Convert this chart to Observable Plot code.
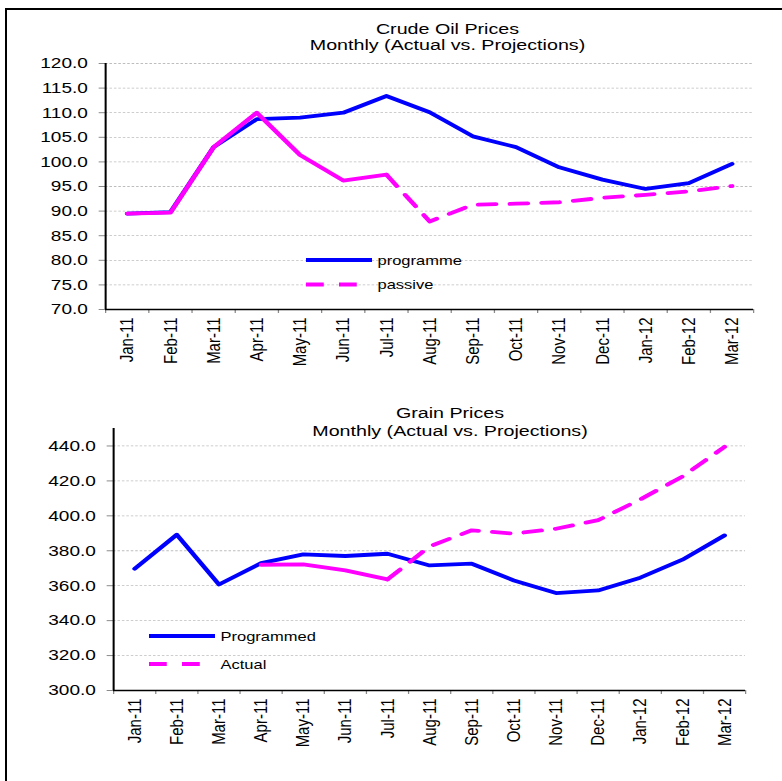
<!DOCTYPE html>
<html><head><meta charset="utf-8">
<script src="https://cdn.jsdelivr.net/npm/d3@7"></script>
<script src="https://cdn.jsdelivr.net/npm/@observablehq/plot@0.6"></script>
<style>
body{margin:0;background:#fff;}
#wrap{position:relative;width:782px;height:781px;overflow:hidden;background:#fff;}
.bt{position:absolute;left:5px;top:8px;width:777px;height:2px;background:#000;}
.bl{position:absolute;left:5px;top:8px;width:2px;height:773px;background:#000;}
</style></head><body><div id="wrap"><div class="bt"></div><div class="bl"></div></div>
<script>
// ---- data ----
const months = ["Jan-11","Feb-11","Mar-11","Apr-11","May-11","Jun-11","Jul-11","Aug-11","Sep-11","Oct-11","Nov-11","Dec-11","Jan-12","Feb-12","Mar-12"];
const oilProgramme = [89.5, 89.8, 103.0, 108.7, 109.0, 110.0, 113.4, 110.1, 105.2, 103.0, 98.9, 96.4, 94.5, 95.7, 99.6];
const oilPassive   = [89.5, 89.7, 103.0, 110.0, 101.4, 96.2, 97.4, 87.9, 91.3, 91.5, 91.8, 92.7, 93.3, 94.0, 95.1];
const grainProgrammed = [369.7, 389.2, 360.7, 372.9, 377.9, 377.0, 378.3, 371.6, 372.6, 363.0, 355.8, 357.3, 364.6, 374.9, 388.8];
const grainActual     = [null, null, null, 372.0, 372.2, 368.8, 363.6, 382.5, 391.7, 389.8, 392.6, 397.5, 409.4, 422.5, 439.5];
const lastActual = "Jul-11"; // solid up to here, dashed projection after
const oilTicks = [70, 75, 80, 85, 90, 95, 100, 105, 110, 115, 120];
const grainTicks = [300, 320, 340, 360, 380, 400, 420, 440];
const oilTitle = ["Crude Oil Prices", "Monthly (Actual vs. Projections)"];
const grainTitle = ["Grain Prices", "Monthly (Actual vs. Projections)"];
const oilLegend = ["programme", "passive"];
const grainLegend = ["Programmed", "Actual"];

// ---- layout ----
const OUTW = 782, W = 616;           // drawn in a narrower space, stretched horizontally
const BLUE = "#0000ff", MAG = "#ff00ff";
const FONT = "Liberation Sans, Arial, Helvetica, sans-serif";
const DASH = "14,11";
const wrap = document.getElementById("wrap");
const fmt = d3.format(".1f");
const idx = months.map((_, i) => i);
const bounds = d3.range(months.length + 1).map(i => i - 0.5);
const cut = months.indexOf(lastActual);

function chart(cfg) {
  const {h, top, mt, mb, ml, mr, domain, ticks, blue, mag, title, legend} = cfg;
  const bluePts = blue.map((v, i) => ({i, v})).filter(d => d.v != null);
  const magPts = mag.map((v, i) => ({i, v})).filter(d => d.v != null);
  const svg = Plot.plot({
    width: W, height: h,
    marginTop: mt, marginBottom: mb, marginLeft: ml, marginRight: mr,
    style: {fontFamily: FONT, fontSize: "14px", color: "#000", background: "transparent", overflow: "visible"},
    x: {type: "linear", domain: [-0.5, months.length - 0.5], axis: null, label: null},
    y: {domain, axis: null, label: null},
    marks: [
      Plot.gridY(ticks.filter(t => t !== domain[0]), {stroke: "#bdbdbd", strokeOpacity: 1, strokeWidth: 0.8, strokeDasharray: "2,1.5"}),
      Plot.axisY(ticks, {label: null, tickSize: 5, tickPadding: 9, tickFormat: fmt, fontSize: 15, stroke: "#8a8a8a", fill: "#000"}),
      Plot.axisX(bounds, {label: null, tickSize: 4, tickFormat: () => "", stroke: "#8a8a8a"}),
      Plot.axisX(idx, {label: null, tickSize: 0, tickPadding: 8, tickRotate: -90, tickFormat: i => months[i], fontSize: 15, fill: "#000"}),
      Plot.ruleX([-0.5], {y1: domain[0], y2: domain[1], stroke: "#000", strokeWidth: 1.6}),
      Plot.ruleY([domain[0]], {stroke: "#000", strokeWidth: 1.6}),
      Plot.line(bluePts, {x: "i", y: "v", stroke: BLUE, strokeWidth: 3.8, strokeLinejoin: "round"}),
      Plot.line(magPts.filter(d => d.i <= cut), {x: "i", y: "v", stroke: MAG, strokeWidth: 3.8, strokeLinejoin: "round"}),
      Plot.line(magPts.filter(d => d.i >= cut), {x: "i", y: "v", stroke: MAG, strokeWidth: 3.8, strokeLinejoin: "round", strokeDasharray: DASH})
    ]
  });
  const s = d3.select(svg);
  // titles
  title.text.forEach((t, k) => {
    s.append("text").attr("x", title.x).attr("y", title.y[k]).attr("text-anchor", "middle")
      .attr("font-size", 15.5).attr("fill", "#000").text(t);
  });
  // legend
  const L = legend;
  [[BLUE, null], [MAG, "14,12"]].forEach(([c, dash], k) => {
    const y = L.y[k];
    const ln = s.append("line").attr("x1", L.x1).attr("x2", L.x2).attr("y1", y).attr("y2", y)
      .attr("stroke", c).attr("stroke-width", 3.8);
    if (dash) ln.attr("stroke-dasharray", dash);
    s.append("text").attr("x", L.tx).attr("y", y).attr("dy", "0.35em").attr("font-size", 13)
      .attr("text-anchor", "start").attr("fill", "#000").text(L.labels[k]);
  });
  svg.setAttribute("width", OUTW);
  svg.setAttribute("height", h);
  svg.setAttribute("viewBox", `0 0 ${W} ${h}`);
  svg.setAttribute("preserveAspectRatio", "none");
  Object.assign(svg.style, {position: "absolute", left: "0px", top: top + "px", width: OUTW + "px", height: h + "px", maxWidth: "none"});
  wrap.appendChild(svg);
}

const k = OUTW / W;
chart({
  h: 388, top: 0, mt: 63, mb: 79, ml: 105 / k, mr: (OUTW - 753) / k,
  domain: [70, 120], ticks: oilTicks, blue: oilProgramme, mag: oilPassive,
  title: {text: oilTitle, x: 447.5 / k, y: [34, 50]},
  legend: {labels: oilLegend, x1: 306 / k, x2: 372 / k, tx: 377.5 / k, y: [260, 284.5]}
});
chart({
  h: 393, top: 388, mt: 40, mb: 91, ml: 113 / k, mr: (OUTW - 745) / k,
  domain: [300, 450], ticks: grainTicks, blue: grainProgrammed, mag: grainActual,
  title: {text: grainTitle, x: 450 / k, y: [30, 48]},
  legend: {labels: grainLegend, x1: 149 / k, x2: 215 / k, tx: 220.5 / k, y: [248, 276]}
});
</script></body></html>
